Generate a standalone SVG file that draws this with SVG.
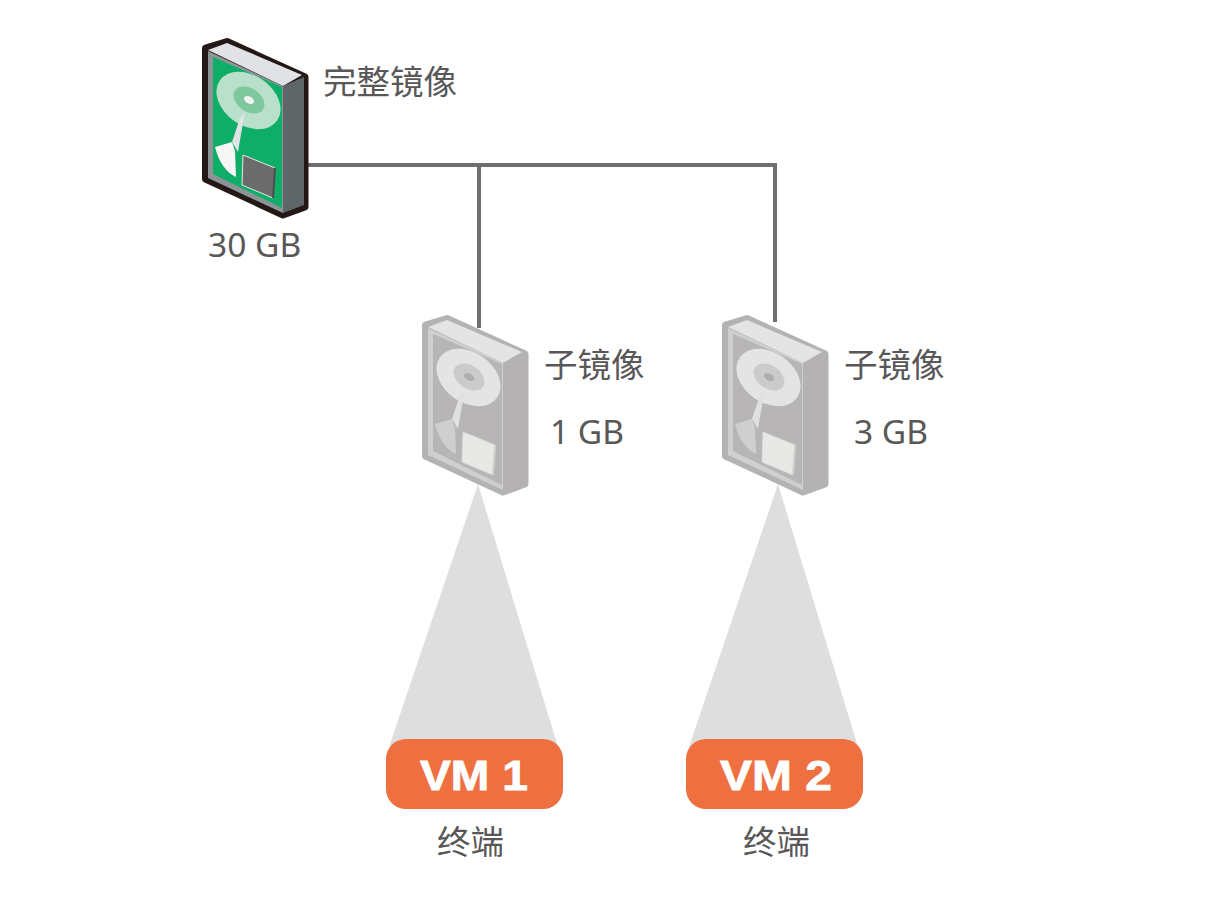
<svg xmlns="http://www.w3.org/2000/svg" width="1212" height="922" viewBox="0 0 1212 922">
<style>
text{font-family:"Noto Sans","Noto Sans CJK SC",sans-serif;font-size:33.500px;fill:#595757}
.vm{font-family:"Liberation Sans",sans-serif;font-weight:bold;font-size:42px;fill:#fff;stroke:#fff;stroke-width:.8}
.link{fill:none;stroke:#6f6f6f;stroke-width:4}
.beam{fill:#dedede}
.box{fill:#ee7040}
.outline{fill:var(--line);stroke:var(--line);stroke-width:7;stroke-linejoin:round}
.top{fill:var(--top)}.side{fill:var(--side)}.frame{fill:var(--frame)}.panel{fill:var(--panel)}.disk{fill:var(--disk)}.ring{fill:var(--ring)}.hole{fill:var(--hole)}.arm{fill:var(--arm)}.head{fill:var(--head)}
.chip{fill:var(--chip);stroke:var(--chipline);stroke-width:1}
.chipedge{fill:none;stroke:var(--chipedge);stroke-width:2}
.g{--line:#231815;--top:#e0e2e6;--side:#5f6668;--frame:#8d9496;--panel:#0fae68;--disk:#b9e0ca;--ring:#7fc79d;--hole:#f2f2f2;--arm:#dfe3e3;--head:#f6f6f6;--chip:#6b6b6b;--chipline:#e8e8e8;--chipedge:#4a4a4a}
.w{--line:#b4b2b2;--top:#e4e4e4;--side:#b4b2b2;--frame:#cfcfcf;--panel:#b7b5b5;--disk:#e4e4e4;--ring:#cbcbcb;--hole:#aeaeae;--arm:#e0e0e0;--head:#cfcfcf;--chip:#e8e8e6;--chipline:#dcdcd8;--chipedge:#d2d2cc}
</style>
<defs>
<g id="drive">
<path class="outline" d="M205.500 48L227 41.500L305 77V207L283 215L205.500 179Z"/>
<path class="top" d="M208 50L227 43L302 75L283 86Z"/>
<path class="side" d="M283 86L304 77V205L283 213Z"/>
<path class="frame" d="M208 51L283 86V213L208 178Z"/>
<path class="panel" d="M213 57L282 87V208L213 174Z"/>
<ellipse class="disk" cx="248.500" cy="100.500" rx="35" ry="25" transform="rotate(35 248.500 100.500)"/>
<ellipse class="ring" cx="249" cy="100" rx="17" ry="11.500" transform="rotate(35 249 100)"/>
<ellipse class="hole" cx="249" cy="100" rx="5.500" ry="3.500" transform="rotate(30 249 100)"/>
<path class="head" d="M215 147L232 142L235 151L236 177Q221 170 215 147Z"/>
<path class="arm" d="M245 112L240 140L238 152L232 142L240 118Z"/>
<path class="chip" d="M243 155L275 168L273 198L242 185Z"/>
<path class="chipedge" d="M275 168L273 198"/>
</g>
</defs>
<g id="connectors">
<path class="link" d="M308 165H775V322"/>
<path class="link" d="M479 165V328"/>
<path class="beam" d="M478 484L389 747H558Z"/>
<path class="beam" d="M778 484L689 747H858Z"/>
</g>
<g id="full-image" class="g"><use href="#drive"/><text x="323" y="94">完整镜像</text><text x="208" y="257">30 GB</text></g>
<g id="child-1" class="w"><use href="#drive" x="220" y="277"/><text x="544" y="377">子镜像</text><text x="550" y="444">1 GB</text></g>
<g id="child-2" class="w"><use href="#drive" x="520" y="277"/><text x="844" y="377">子镜像</text><text x="854" y="444">3 GB</text></g>
<g id="vm-1"><rect class="box" x="386" y="739" width="177" height="70" rx="20"/><text class="vm" x="420" y="790" textLength="108" lengthAdjust="spacingAndGlyphs">VM 1</text><text x="437" y="854">终端</text></g>
<g id="vm-2"><rect class="box" x="686" y="739" width="177" height="70" rx="20"/><text class="vm" x="720" y="790" textLength="112" lengthAdjust="spacingAndGlyphs">VM 2</text><text x="743" y="854">终端</text></g>
</svg>
